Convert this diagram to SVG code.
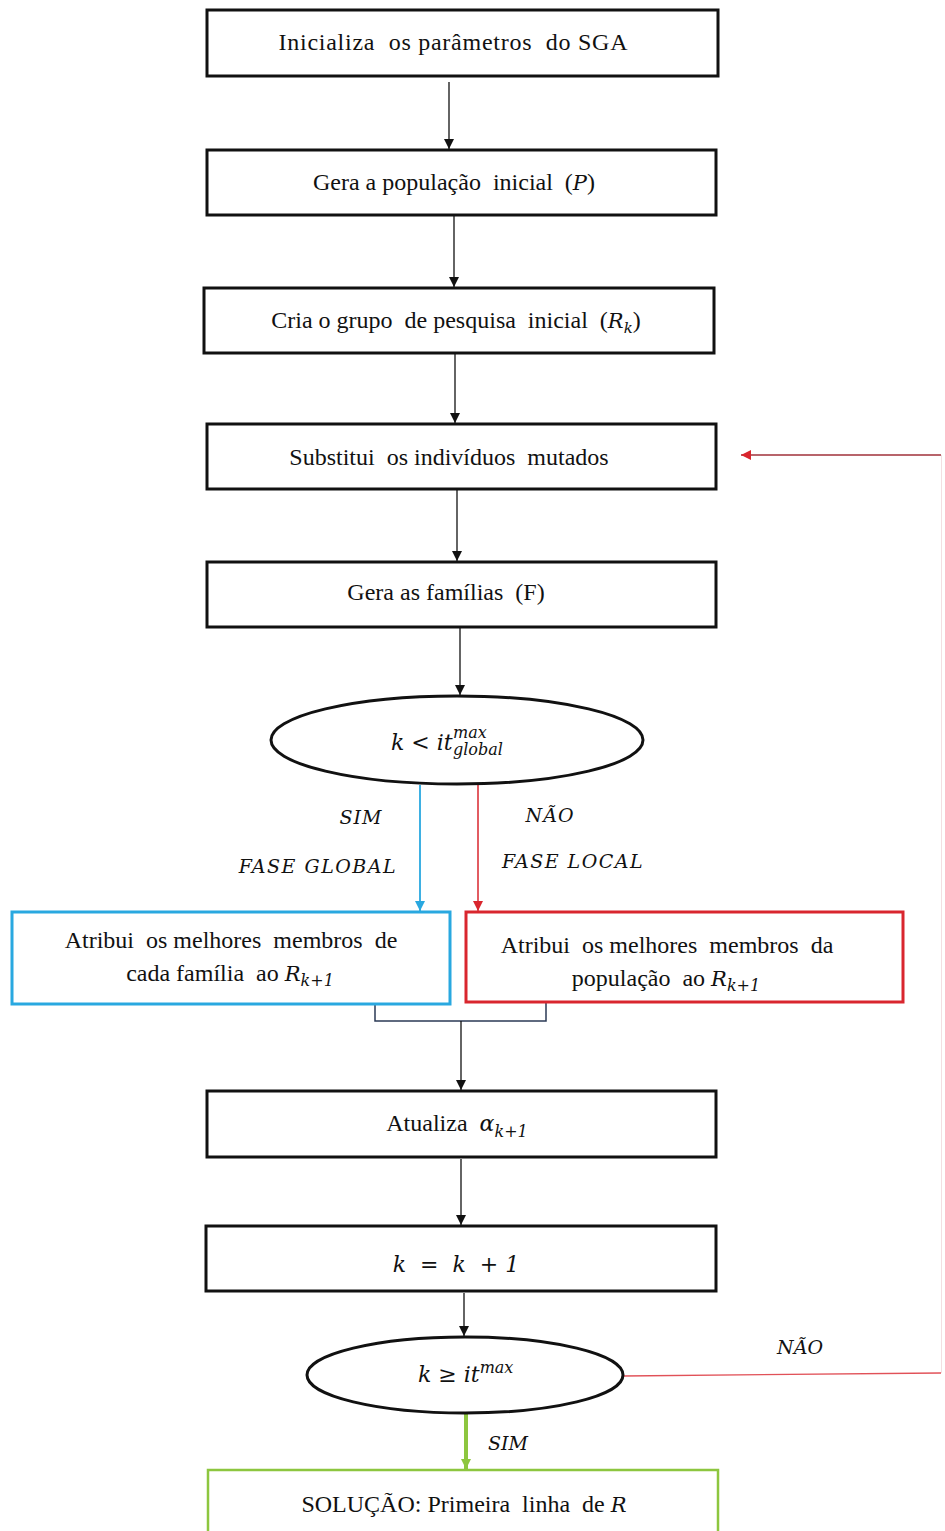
<svg xmlns="http://www.w3.org/2000/svg" width="945" height="1531" viewBox="0 0 945 1531">
<style>
.box{fill:#fff;stroke:#111;stroke-width:3}
.t{font-family:"Liberation Serif",serif;font-size:24px;fill:#111;text-anchor:middle;white-space:pre}
.m{font-family:"DejaVu Serif",serif;font-style:italic;fill:#111}
.c{fill:none;stroke:#111;stroke-width:1.3}
</style>
<defs>
<marker id="ab" viewBox="0 0 10 10" refX="10" refY="5" markerWidth="10" markerHeight="10" markerUnits="userSpaceOnUse" orient="auto"><path d="M0,0 L10,5 L0,10 z" fill="#111"/></marker>
<marker id="abl" viewBox="0 0 10 10" refX="10" refY="5" markerWidth="10" markerHeight="10" markerUnits="userSpaceOnUse" orient="auto"><path d="M0,0 L10,5 L0,10 z" fill="#29a8e0"/></marker>
<marker id="ar" viewBox="0 0 10 10" refX="10" refY="5" markerWidth="10" markerHeight="10" markerUnits="userSpaceOnUse" orient="auto"><path d="M0,0 L10,5 L0,10 z" fill="#d9262e"/></marker>
<marker id="ag" viewBox="0 0 10 10" refX="10" refY="5" markerWidth="10" markerHeight="10" markerUnits="userSpaceOnUse" orient="auto"><path d="M0,0 L10,5 L0,10 z" fill="#8dc63f"/></marker>
</defs>
<rect width="945" height="1531" fill="#fff"/>

<g id="connectors">
<line class="c" x1="449" y1="82" x2="449" y2="149" marker-end="url(#ab)"/>
<line class="c" x1="454" y1="216" x2="454" y2="287" marker-end="url(#ab)"/>
<line class="c" x1="455" y1="354" x2="455" y2="423" marker-end="url(#ab)"/>
<line class="c" x1="457" y1="490" x2="457" y2="561" marker-end="url(#ab)"/>
<line class="c" x1="460" y1="628" x2="460" y2="695" marker-end="url(#ab)"/>
<line x1="420" y1="785" x2="420" y2="911" stroke="#29a8e0" stroke-width="1.8" marker-end="url(#abl)"/>
<line x1="478" y1="785" x2="478" y2="911" stroke="#d9262e" stroke-width="1.5" marker-end="url(#ar)"/>
<path d="M375,1005 V1021 H546 V1003" fill="none" stroke="#2b3a55" stroke-width="1.5"/>
<line class="c" x1="461" y1="1021" x2="461" y2="1090" marker-end="url(#ab)"/>
<line class="c" x1="461" y1="1159" x2="461" y2="1225" marker-end="url(#ab)"/>
<line class="c" x1="464" y1="1293" x2="464" y2="1336" marker-end="url(#ab)"/>
<line x1="466" y1="1414" x2="466" y2="1469" stroke="#8dc63f" stroke-width="4" marker-end="url(#ag)"/>
<polyline points="623,1376 941,1373" fill="none" stroke="#d9262e" stroke-opacity="0.8" stroke-width="1.3"/>
<line x1="941.5" y1="1373" x2="941.5" y2="455" stroke="#f3dfe2" stroke-width="1"/>
<line x1="941" y1="455" x2="741" y2="455" stroke="#a0303a" stroke-width="1.5" marker-end="url(#ar)"/>
<text class="m" x="361" y="824" font-size="19" text-anchor="middle" letter-spacing="1">SIM</text>
<text class="m" x="550" y="822" font-size="19" text-anchor="middle" letter-spacing="1">NÃO</text>
<text class="m" x="318" y="873" font-size="19" text-anchor="middle" letter-spacing="1.5">FASE GLOBAL</text>
<text class="m" x="573" y="868" font-size="19" text-anchor="middle" letter-spacing="1.5">FASE LOCAL</text>
<text class="m" x="800" y="1354" font-size="19" text-anchor="middle">NÃO</text>
<text class="m" x="508" y="1450" font-size="19" text-anchor="middle">SIM</text>
</g>

<g id="n1">
<rect class="box" x="207" y="10" width="511" height="66"/>
<text class="t" x="453" y="50" textLength="349">Inicializa  os parâmetros  do SGA</text>
</g>
<g id="n2">
<rect class="box" x="207" y="150" width="509" height="65"/>
<text class="t" x="454" y="190">Gera a população  inicial  (<tspan class="m" font-size="21">P</tspan>)</text>
</g>
<g id="n3">
<rect class="box" x="204" y="288" width="510" height="65"/>
<text class="t" x="456" y="328">Cria o grupo  de pesquisa  inicial  (<tspan class="m" font-size="21">R</tspan><tspan class="m" font-size="15" dy="5">k</tspan><tspan dy="-5">)</tspan></text>
</g>
<g id="n4">
<rect class="box" x="207" y="424" width="509" height="65"/>
<text class="t" x="449" y="465">Substitui  os indivíduos  mutados</text>
</g>
<g id="n5">
<rect class="box" x="207" y="562" width="509" height="65"/>
<text class="t" x="446" y="600">Gera as famílias  (F)</text>
</g>
<g id="d1">
<ellipse cx="457" cy="740" rx="186" ry="44" fill="#fff" stroke="#111" stroke-width="3"/>
<text class="m" x="391" y="750" font-size="22">k &lt; it</text>
<text class="m" x="453" y="738" font-size="16">max</text>
<text class="m" x="453" y="755" font-size="16">global</text>
</g>
<g id="nb">
<rect x="12" y="912" width="438" height="92" fill="#fff" stroke="#29a8e0" stroke-width="3"/>
<text class="t" x="231" y="948">Atribui  os melhores  membros  de</text>
<text class="t" x="230" y="981">cada família  ao <tspan class="m" font-size="21">R</tspan><tspan class="m" font-size="16" dy="5">k+1</tspan></text>
</g>
<g id="nr">
<rect x="466" y="912" width="437" height="90" fill="#fff" stroke="#d9262e" stroke-width="3"/>
<text class="t" x="667" y="953">Atribui  os melhores  membros  da</text>
<text class="t" x="666" y="986">população  ao <tspan class="m" font-size="21">R</tspan><tspan class="m" font-size="16" dy="5">k+1</tspan></text>
</g>
<g id="n6">
<rect class="box" x="207" y="1091" width="509" height="66"/>
<text class="t" x="457" y="1131">Atualiza  <tspan class="m" font-size="22">α</tspan><tspan class="m" font-size="16" dy="6">k+1</tspan></text>
</g>
<g id="n7">
<rect class="box" x="206" y="1226" width="510" height="65"/>
<text class="m" x="456" y="1272" font-size="22" text-anchor="middle" style="white-space:pre">k  =  k  + 1</text>
</g>
<g id="d2">
<ellipse cx="465" cy="1375" rx="158" ry="38" fill="#fff" stroke="#111" stroke-width="3"/>
<text class="m" x="418" y="1382" font-size="22">k ≥ it<tspan font-size="16" dy="-9">max</tspan></text>
</g>
<g id="n8">
<rect x="208" y="1470" width="510" height="70" fill="#fff" stroke="#8dc63f" stroke-width="2.5"/>
<text class="t" x="464" y="1512">SOLUÇÃO: Primeira  linha  de <tspan class="m" font-size="21">R</tspan></text>
</g>
</svg>
